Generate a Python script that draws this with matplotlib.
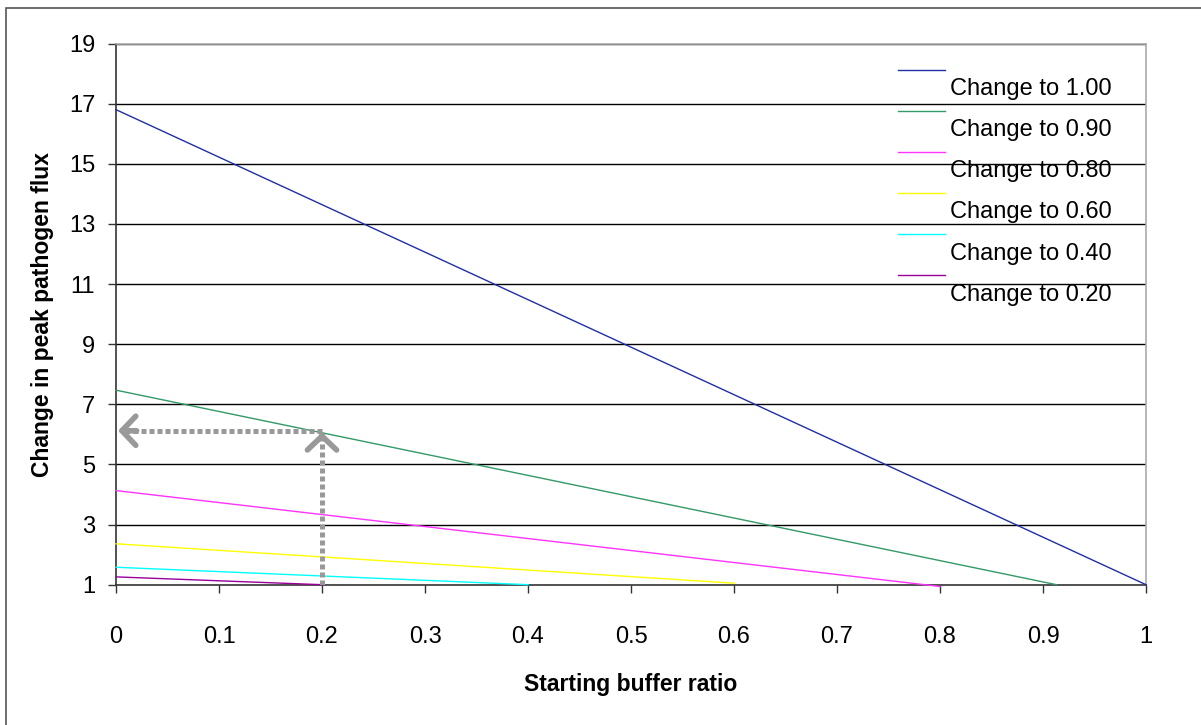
import matplotlib.pyplot as plt
from matplotlib.patches import Rectangle

plt.rcParams['font.family'] = ['Liberation Sans', 'DejaVu Sans']

# Data: each series is a straight line from x=0 down to its end point
labels = ['Change to 1.00', 'Change to 0.90', 'Change to 0.80',
          'Change to 0.60', 'Change to 0.40', 'Change to 0.20']
colors = ['#1f2fa6', '#339966', '#ff33ff', '#ffff00', '#00ffff', '#990099']
x_start = [0, 0, 0, 0, 0, 0]
y_start = [16.8, 7.47, 4.13, 2.36, 1.58, 1.26]
x_end = [1.0, 0.913, 0.80, 0.60, 0.40, 0.20]
y_end = [1.0, 1.0, 0.94, 1.05, 1.0, 1.0]

# Reading guide (dotted arrows)
guide_x = 0.2
guide_y = 6.12

y_ticks = [1, 3, 5, 7, 9, 11, 13, 15, 17, 19]
x_ticks = [0, 0.1, 0.2, 0.3, 0.4, 0.5, 0.6, 0.7, 0.8, 0.9, 1]
x_ticklabels = ['0', '0.1', '0.2', '0.3', '0.4', '0.5', '0.6', '0.7', '0.8', '0.9', '1']

W, H = 1201, 725
fig = plt.figure(figsize=(W / 100, H / 100), dpi=100)
ax = fig.add_axes([116 / W, 1 - 584.7 / H, 1030 / W, (584.7 - 43.5) / H])

# outer chart frame (runs off the right and bottom edges)
fig.patches.append(Rectangle((6 / W, -0.05), 1.2, 1 - 8 / H + 0.05,
                             transform=fig.transFigure, fill=False,
                             edgecolor='#555555', linewidth=1.2))

# gridlines
for yv in y_ticks[1:]:
    ax.axhline(yv, color='black', linewidth=1, zorder=1)

for xs, ys, xe, ye, c, lab in zip(x_start, y_start, x_end, y_end, colors, labels):
    ax.plot([xs, xe], [ys, ye], color=c, linewidth=1, label=lab,
            clip_on=False, zorder=3)

# dotted guide lines
gray = '#999999'
ax.plot([guide_x, guide_x], [1, guide_y - 0.1], color=gray, lw=3.6,
        linestyle=(0, (1, 0.6)), zorder=4, solid_capstyle='butt')
ax.plot([guide_x, 0.005], [guide_y, guide_y], color=gray, lw=3.6,
        linestyle=(0, (1, 0.6)), zorder=4, solid_capstyle='butt')
head = dict(arrowstyle='->,head_length=1.0,head_width=1.05', color=gray,
            lw=4, mutation_scale=10, shrinkA=0, shrinkB=0,
            capstyle='round', joinstyle='round')
ax.annotate('', xy=(guide_x, guide_y - 0.05), xytext=(guide_x, guide_y - 0.25),
            arrowprops=head, zorder=5)
ax.annotate('', xy=(0.002, guide_y), xytext=(0.02, guide_y),
            arrowprops=head, zorder=5)

ax.set_xlim(0, 1)
ax.set_ylim(1, 19)
ax.set_xticks(x_ticks)
ax.set_xticklabels(x_ticklabels)
ax.set_yticks(y_ticks)
ax.tick_params(axis='both', labelsize=17, length=6, width=1, color='#333333')
ax.tick_params(axis='x', pad=24)
ax.tick_params(axis='y', pad=9)

for side in ['top', 'right']:
    ax.spines[side].set_color('#aaaaaa')
    ax.spines[side].set_linewidth(1.2)
for side in ['left', 'bottom']:
    ax.spines[side].set_color('#333333')
    ax.spines[side].set_linewidth(1.2)

ax.set_xlabel('Starting buffer ratio', fontsize=16.5, fontweight='bold', labelpad=18)
ax.set_ylabel('Change in peak pathogen flux', fontsize=16.5, fontweight='bold', labelpad=11)

leg = ax.legend(loc='upper left', bbox_to_anchor=(0.75, 0.985), frameon=False,
                fontsize=17, handlelength=2.0, handletextpad=0.2,
                labelspacing=0.81, borderaxespad=0)
for t in leg.get_texts():
    t.set_va('top')

fig.savefig('out.png', dpi=100)
